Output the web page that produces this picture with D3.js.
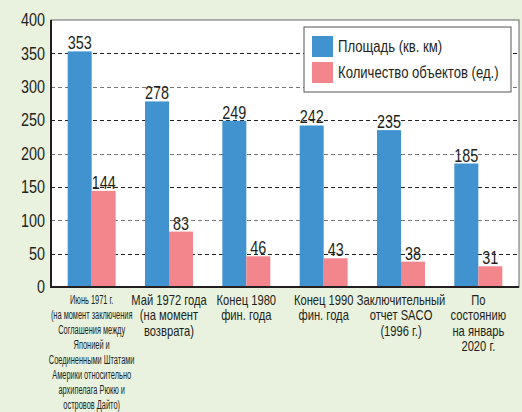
<!DOCTYPE html>
<html>
<head>
<meta charset="utf-8">
<script src="https://cdn.jsdelivr.net/npm/d3@7"></script>
<style>
    body { margin: 0; background: #e9f2de; }
    svg { display: block; font-family: "Liberation Sans", Arial, sans-serif; }
</style>
</head>
<body>
<div class="chart"></div>
<script>
const categories = [
    ["Июнь 1971 г.", "(на момент заключения", "Соглашения между", "Японией и", "Соединенными Штатами", "Америки относительно", "архипелага Рюкю и", "островов Дайто)"],
    ["Май 1972 года", "(на момент", "возврата)"],
    ["Конец 1980", "фин. года"],
    ["Конец 1990", "фин. года"],
    ["Заключительный", "отчет SACO", "(1996 г.)"],
    ["По", "состоянию", "на январь", "2020 г."]
];
const areaValues = [353, 278, 249, 242, 235, 185];
const countValues = [144, 83, 46, 43, 38, 31];
const seriesNames = ["Площадь (кв. км)", "Количество объектов (ед.)"];
const seriesColors = ["#4193d0", "#f3868c"];
const yTicks = [0, 50, 100, 150, 200, 250, 300, 350, 400];

const width = 522, height = 412;
const plotLeft = 51, plotRight = 519, plotTop = 20, plotBottom = 287;
const narrow = 0.8;   // the original uses a condensed face

const svg = d3.select(".chart").append("svg")
    .attr("width", width).attr("height", height);

svg.append("rect").attr("width", width).attr("height", height).attr("fill", "#e9f2de");

const y = d3.scaleLinear().domain([0, 400]).range([plotBottom, plotTop]);
const x0 = d3.scaleBand().domain(d3.range(categories.length)).range([53, 517]);
const x1 = d3.scaleBand().domain([0, 1]).range([x0.bandwidth() / 2 - 24, x0.bandwidth() / 2 + 24]);

// draw a condensed text anchored at (x, y)
function label(parent, x, yy, s, size, anchor, sx) {
    return parent.append("text")
        .attr("transform", "translate(" + x + "," + yy + ") scale(" + (sx || narrow) + ",1)")
        .attr("text-anchor", anchor || "middle")
        .attr("font-size", size)
        .attr("fill", "#231f20")
        .text(s);
}

// plot area
svg.append("rect")
    .attr("x", plotLeft).attr("y", plotTop)
    .attr("width", plotRight - plotLeft).attr("height", plotBottom - plotTop)
    .attr("fill", "#fff").attr("stroke", "#666").attr("stroke-width", 1);

// grid lines
svg.append("g").selectAll("line")
    .data(yTicks.filter(d => d > 0 && d < 400))
    .join("line")
    .attr("x1", plotLeft).attr("x2", plotRight)
    .attr("y1", d => Math.round(y(d)) + 0.5).attr("y2", d => Math.round(y(d)) + 0.5)
    .attr("stroke", d => d % 100 === 0 ? "#777" : "#222")
    .attr("stroke-width", 1)
    .attr("stroke-dasharray", "4,3");

// y axis
const yAxis = svg.append("g")
    .attr("transform", "translate(" + (plotLeft - 6) + ",0)")
    .call(d3.axisLeft(y).tickValues(yTicks).tickSize(0).tickPadding(0));
yAxis.select(".domain").remove();
yAxis.selectAll("text")
    .attr("font-size", 18).attr("fill", "#231f20")
    .attr("font-family", "Liberation Sans, Arial, sans-serif")
    .attr("x", 0)
    .attr("transform", "scale(" + narrow + ",1)");

// bars
const groups = svg.append("g").selectAll("g")
    .data(areaValues.map((v, i) => [v, countValues[i]]))
    .join("g")
    .attr("transform", (d, i) => "translate(" + x0(i) + ",0)");

groups.selectAll("rect")
    .data(d => d)
    .join("rect")
    .attr("x", (d, j) => x1(j))
    .attr("y", d => y(d))
    .attr("width", x1.bandwidth())
    .attr("height", d => plotBottom - y(d))
    .attr("fill", (d, j) => seriesColors[j]);

groups.each(function (d) {
    const g = d3.select(this);
    d.forEach((v, j) => label(g, x1(j) + x1.bandwidth() / 2, y(v) - 2, v, 18));
});

// axis lines
svg.append("line").attr("x1", plotLeft).attr("x2", plotLeft).attr("y1", plotTop).attr("y2", plotBottom + 1)
    .attr("stroke", "#231f20").attr("stroke-width", 2);
svg.append("line").attr("x1", plotLeft - 1).attr("x2", plotRight).attr("y1", plotBottom).attr("y2", plotBottom)
    .attr("stroke", "#231f20").attr("stroke-width", 2);

// category labels
categories.forEach((lines, i) => {
    const cx = x0(i) + x0.bandwidth() / 2;
    const first = i === 0;
    lines.forEach((s, k) => {
        if (first) label(svg, cx, 304 + k * 15, s, 13.5, "middle", 0.55);
        else label(svg, cx, 305 + k * 15.3, s, 14);
    });
});

// legend
const legend = svg.append("g").attr("transform", "translate(304,27)");
legend.append("rect").attr("width", 207).attr("height", 65)
    .attr("fill", "#fff").attr("stroke", "#555").attr("stroke-width", 1);
seriesNames.forEach((name, i) => {
    legend.append("rect").attr("x", 8).attr("y", 9 + i * 26).attr("width", 21).attr("height", 21)
        .attr("fill", seriesColors[i]);
    label(legend, 34, 25 + i * 26, name, 16, "start", 0.82);
});
</script>
</body>
</html>
